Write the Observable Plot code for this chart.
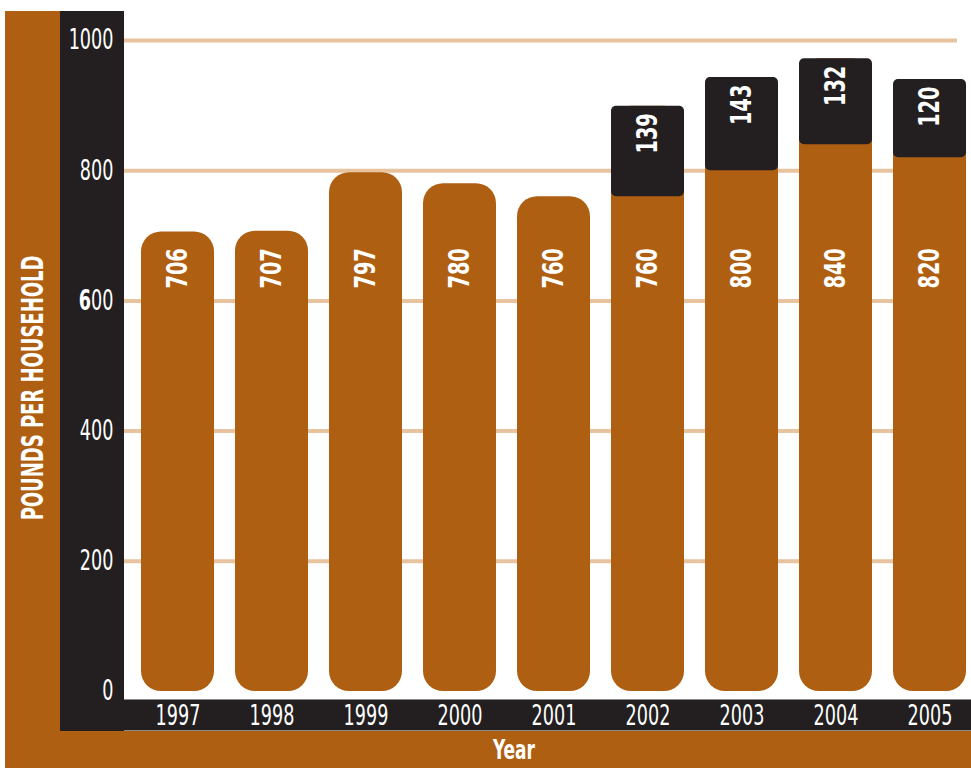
<!DOCTYPE html>
<html>
<head>
<meta charset="utf-8">
<script src="https://cdn.jsdelivr.net/npm/d3@7"></script>
<script src="https://cdn.jsdelivr.net/npm/@observablehq/plot@0.6"></script>
<style>
  html, body { margin: 0; padding: 0; background: #fff; }
  #wrap { position: relative; width: 971px; height: 769px; overflow: hidden;
          font-family: "DejaVu Sans Condensed", "DejaVu Sans", sans-serif; }
  .bg { position: absolute; }
  #chart { position: absolute; left: 0; top: 0; }
  .lab { position: absolute; color: #fff; font-weight: bold; white-space: nowrap; line-height: 1; }
  #ylab { left: 32px; top: 388px; font-size: 31px; }
  #xlab { left: 514px; top: 749px; font-size: 27px; }
</style>
</head>
<body>
<div id="wrap">
  <div class="bg" style="left:5px;top:11px;width:55px;height:757px;background:#AF5F12"></div>
  <div class="bg" style="left:5px;top:730px;width:966px;height:38px;background:#AF5F12"></div>
  <div class="bg" style="left:60px;top:11px;width:64px;height:720px;background:#231F20"></div>
  <div class="bg" style="left:124px;top:699px;width:847px;height:32px;background:#231F20;border-top:1px solid #8a8a8a;border-bottom:1px solid #8a8a8a;box-sizing:border-box"></div>
  <div id="chart"></div>
  <div id="ylab" class="lab">POUNDS PER HOUSEHOLD</div>
  <div id="xlab" class="lab">Year</div>
</div>
<script>
// ---- data ----
const years = ["1997", "1998", "1999", "2000", "2001", "2002", "2003", "2004", "2005"];
const baseValues = [706, 707, 797, 780, 760, 760, 800, 840, 820];
const extraValues = [null, null, null, null, null, 139, 143, 132, 120];
const yTicks = [0, 200, 400, 600, 800, 1000];
const gridTicks = [200, 400, 600, 800, 1000];
const labelLevel = 650; // value level where the base labels sit

const orange = "#AF5F12";
const black = "#231F20";
const grid = "#E8C3A0";

const data = years.map((year, i) => ({
  year,
  base: baseValues[i],
  extra: extraValues[i],
  total: baseValues[i] + (extraValues[i] || 0)
}));
const stacked = data.filter(d => d.extra != null);

const chart = Plot.plot({
  width: 971,
  height: 769,
  marginLeft: 124,
  marginRight: 14,
  marginTop: 11,
  marginBottom: 77,
  style: { background: "transparent", overflow: "visible",
           fontFamily: "'DejaVu Sans Condensed', 'DejaVu Sans', sans-serif" },
  x: { domain: years, range: [127.7, 979.3], paddingInner: 0.22, paddingOuter: 0.11, axis: null },
  y: { domain: [0, 1000], range: [691, 40], axis: null },
  marks: [
    Plot.ruleY(gridTicks, { stroke: grid, strokeWidth: 4 }),
    Plot.barY(data, { x: "year", y1: () => 0, y2: "total", fill: orange, rx: 20 }),
    Plot.barY(stacked, { x: "year", y1: "base", y2: "total", fill: black, rx: 5 }),
    Plot.text(data, { x: "year", y: () => labelLevel, text: d => String(d.base), rotate: -90,
                      fill: "white", fontWeight: "bold", fontSize: 29, className: "barlab" }),
    Plot.text(stacked, { x: "year", y: "total", text: d => String(d.extra), rotate: -90,
                         textAnchor: "end", dy: 7, fill: "white", fontWeight: "bold", fontSize: 29,
                         className: "barlab" }),
    Plot.axisX({ tickSize: 0, tickPadding: 13, fontSize: 28, color: "white", label: null, className: "tick" }),
    Plot.axisY(yTicks, { tickSize: 0, tickPadding: 11, fontSize: 28, color: "white", label: null,
                         anchor: "left", tickFormat: d => String(d), className: "tick" })
  ]
});
document.getElementById("chart").appendChild(chart);

// the reference prints the "6" of 600 in bold
d3.select(chart).selectAll("text").filter(function () { return this.textContent === "600"; })
  .each(function () {
    const t = d3.select(this);
    t.text(null);
    t.append("tspan").attr("font-weight", "bold").text("6");
    t.append("tspan").text("00");
  });

// condense text horizontally (reference uses a condensed face)
function num(v) { return v != null && /^-?[\d.]+$/.test(v.trim()); }
function squeeze(el, sx) {
  let x = 0, y = 0;
  const ax = el.getAttribute("x"), ay = el.getAttribute("y");
  if (num(ax)) { x = +ax; el.removeAttribute("x"); }
  if (num(ay)) { y = +ay; el.removeAttribute("y"); }
  const t = el.getAttribute("transform") || "";
  el.setAttribute("transform", `${t} translate(${x},${y}) scale(${sx},1)`);
}
chart.querySelectorAll("g[class*='tick'] text").forEach(el => squeeze(el, 0.7));
chart.querySelectorAll("g[class*='barlab'] text").forEach(el => squeeze(el, 0.74));

// fit the html titles
function fit(el, target, rotate) {
  const w = el.offsetWidth;
  const s = target / w;
  el.style.transform = `translate(-50%, -50%) ${rotate ? "rotate(-90deg)" : ""} scale(${s},1)`;
}
fit(document.getElementById("ylab"), 265, true);
fit(document.getElementById("xlab"), 42, false);
</script>
</body>
</html>
